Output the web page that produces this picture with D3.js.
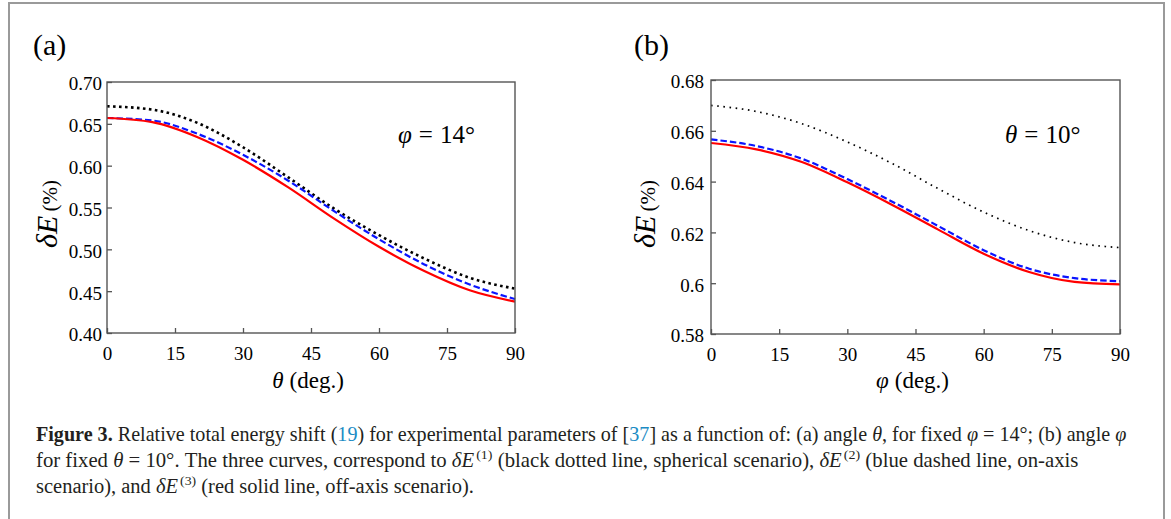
<!DOCTYPE html>
<html>
<head>
<meta charset="utf-8">
<script src="https://cdn.jsdelivr.net/npm/d3@7"></script>
<style>
  html, body { margin: 0; padding: 0; background: #fff; }
  svg { display: block; }
  text { font-family: "Liberation Serif", "Times New Roman", serif; fill: #000; }
</style>
</head>
<body>
<svg id="chart" width="1171" height="519"></svg>
<script>
// ---------- data ----------
const thetaDeg = [0, 10, 20, 30, 40, 50, 60, 70, 80, 90];
const aDotted  = [0.671, 0.667, 0.651, 0.622, 0.586, 0.549, 0.517, 0.489, 0.466, 0.453];
const aDashed  = [0.657, 0.654, 0.638, 0.613, 0.582, 0.546, 0.512, 0.482, 0.458, 0.4405];
const aSolid   = [0.657, 0.652, 0.634, 0.607, 0.574, 0.537, 0.503, 0.474, 0.451, 0.4375];

const phiDeg   = [0, 10, 20, 30, 40, 50, 60, 70, 80, 90];
const bDotted  = [0.6700, 0.6676, 0.6628, 0.6556, 0.6470, 0.6372, 0.6280, 0.6207, 0.6160, 0.6140];
const bDashed  = [0.6566, 0.6540, 0.6490, 0.6410, 0.6320, 0.6225, 0.6130, 0.6057, 0.6020, 0.6008];
const bSolid   = [0.6552, 0.6527, 0.6477, 0.6397, 0.6307, 0.6211, 0.6116, 0.6044, 0.6005, 0.5995];

const xTicks   = [0, 15, 30, 45, 60, 75, 90];
const aYTicks  = [0.40, 0.45, 0.50, 0.55, 0.60, 0.65, 0.70];
const aYLabels = ["0.40", "0.45", "0.50", "0.55", "0.60", "0.65", "0.70"];
const bYTicks  = [0.58, 0.60, 0.62, 0.64, 0.66, 0.68];
const bYLabels = ["0.58", "0.6", "0.62", "0.64", "0.66", "0.68"];

// ---------- drawing ----------
const svg = d3.select("#chart");
svg.append("rect").attr("x", 0).attr("y", 0).attr("width", 1171).attr("height", 519).attr("fill", "#fff");
// outer figure border
svg.append("path").attr("d", "M9,519 L9,3 L1164,3 L1164,519")
  .attr("fill", "none").attr("stroke", "#9a9a9a").attr("stroke-width", 2);

const styles = {
  dotted: { color: "#000", width: 2.6, dash: "2.6,3.4" },
  dashed: { color: "#0a14ff", width: 2.2, dash: "6.5,3" },
  solid:  { color: "#ff0000", width: 2.2, dash: null }
};

function panel(opt) {
  const x = d3.scaleLinear().domain([0, 90]).range([opt.x0, opt.x1]);
  const y = d3.scaleLinear().domain(opt.yDomain).range([opt.y0, opt.y1]);
  const g = svg.append("g");

  const xAxis = d3.axisBottom(x).tickValues(xTicks).tickFormat(d3.format("d"))
    .tickSizeInner(-5).tickSizeOuter(0).tickPadding(13.5);
  const gx = g.append("g").attr("transform", `translate(0,${opt.y0})`).call(xAxis);
  const yAxis = d3.axisLeft(y).tickValues(opt.yTicks).tickFormat((d, i) => opt.yLabels[i])
    .tickSizeInner(-5).tickSizeOuter(0).tickPadding(opt.yPad);
  const gy = g.append("g").attr("transform", `translate(${opt.x0},0)`).call(yAxis);
  [gx, gy].forEach(a => {
    a.select(".domain").remove();
    a.selectAll(".tick line").attr("stroke", "#555").attr("stroke-width", 1.3);
    a.selectAll(".tick text").attr("font-family", "Liberation Serif").attr("font-size", 19).attr("fill", "#000");
  });
  gy.selectAll(".tick text").attr("dy", "0.42em");

  // curves
  const series = [
    { v: opt.dotted, s: opt.dottedStyle || styles.dotted },
    { v: opt.dashed, s: styles.dashed },
    { v: opt.solid,  s: styles.solid }
  ];
  const line = d3.line().x(d => x(d[0])).y(d => y(d[1])).curve(d3.curveMonotoneX);
  series.forEach(sr => {
    g.append("path").datum(opt.xs.map((t, i) => [t, sr.v[i]]))
      .attr("d", line).attr("fill", "none")
      .attr("stroke", sr.s.color).attr("stroke-width", sr.s.width)
      .attr("stroke-dasharray", sr.s.dash);
  });

  // frame
  g.append("rect").attr("x", opt.x0).attr("y", opt.y1)
    .attr("width", opt.x1 - opt.x0).attr("height", opt.y0 - opt.y1)
    .attr("fill", "none").attr("stroke", "#555").attr("stroke-width", 1.4);

  // panel letter
  g.append("text").attr("x", opt.letterX).attr("y", 55).attr("font-size", 30).text(opt.letter);

  // y label
  const yl = g.append("text").attr("transform", `translate(${opt.ylabX},214) rotate(-90)`)
    .attr("text-anchor", "middle");
  yl.append("tspan").attr("font-style", "italic").attr("font-size", 30).text("δE");
  yl.append("tspan").attr("font-size", 21).attr("dx", 4).text("(%)");

  // x label
  const xl = g.append("text").attr("x", (opt.x0 + opt.x1) / 2 - 3).attr("y", 388)
    .attr("text-anchor", "middle").attr("font-size", 23);
  xl.append("tspan").attr("font-style", "italic").text(opt.xVar);
  xl.append("tspan").attr("dx", 6).text("(deg.)");

  // annotation
  const an = g.append("text").attr("x", opt.annX).attr("y", 143).attr("font-size", 25);
  an.append("tspan").attr("font-style", "italic").text(opt.annVar);
  an.append("tspan").attr("dx", 7).text("=");
  an.append("tspan").attr("dx", 7).text(opt.annVal);
}

panel({ x0: 107, x1: 515, y0: 333, y1: 82, yDomain: [0.40, 0.70],
  yTicks: aYTicks, yLabels: aYLabels, yPad: 5,
  xs: thetaDeg, dotted: aDotted, dashed: aDashed, solid: aSolid,
  letter: "(a)", letterX: 33, ylabX: 57, xVar: "θ", annX: 398, annVar: "φ", annVal: "14°" });

panel({ x0: 711, x1: 1120, y0: 334, y1: 80, yDomain: [0.58, 0.68],
  yTicks: bYTicks, yLabels: bYLabels, yPad: 7,
  xs: phiDeg, dotted: bDotted, dashed: bDashed, solid: bSolid,
  dottedStyle: { color: "#000", width: 1.7, dash: "1.6,4.6" },
  letter: "(b)", letterX: 634, ylabX: 655, xVar: "φ", annX: 1005, annVar: "θ", annVal: "10°" });

// ---------- caption ----------
const capColor = "#231f20", refColor = "#1b8bc4";
const capLines = [
  { y: 441, w: 1091, parts: [
    { t: "Figure 3.", b: true }, { t: " Relative total energy shift (" }, { t: "19", c: refColor },
    { t: ") for experimental parameters of [" }, { t: "37", c: refColor },
    { t: "] as a function of: (a) angle " }, { t: "θ", i: true }, { t: ", for fixed " },
    { t: "φ", i: true }, { t: " = 14°; (b) angle " }, { t: "φ", i: true } ] },
  { y: 467, w: 1039, parts: [
    { t: "for fixed " }, { t: "θ", i: true }, { t: " = 10°. The three curves, correspond to " },
    { t: "δE", i: true }, { t: "(1)", sup: true }, { t: " (black dotted line, spherical scenario), " },
    { t: "δE", i: true }, { t: "(2)", sup: true }, { t: " (blue dashed line, on-axis" } ] },
  { y: 493, w: 436, parts: [
    { t: "scenario), and " }, { t: "δE", i: true }, { t: "(3)", sup: true },
    { t: " (red solid line, off-axis scenario)." } ] }
];
capLines.forEach(L => {
  const g = svg.append("g");
  const tx = g.append("text").attr("x", 0).attr("y", 0).attr("font-size", 20)
    .style("fill", capColor).attr("xml:space", "preserve").style("white-space", "pre");
  let afterSup = false;
  L.parts.forEach(p => {
    const ts = tx.append("tspan").text(p.t);
    if (p.b) ts.attr("font-weight", "bold");
    if (p.i) ts.attr("font-style", "italic");
    if (p.c) ts.style("fill", p.c);
    if (p.sup) { ts.attr("font-size", 13.5).attr("dy", -8).attr("dx", 2); afterSup = true; }
    else if (afterSup) { ts.attr("dy", 8); afterSup = false; }
  });
  const w = tx.node().getComputedTextLength();
  g.attr("transform", `translate(36,${L.y}) scale(${L.w / w},1)`);
});
</script>
</body>
</html>
